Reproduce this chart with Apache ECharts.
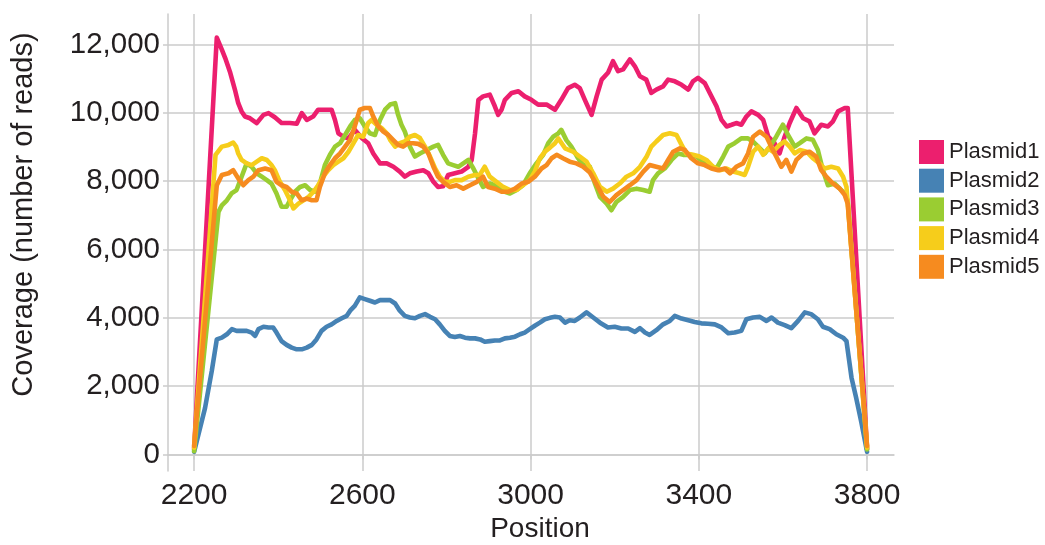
<!DOCTYPE html>
<html>
<head>
<meta charset="utf-8">
<script src="https://cdn.jsdelivr.net/npm/echarts@6/dist/echarts.min.js"></script>
<style>
  html, body { margin: 0; padding: 0; background: #ffffff; }
  #chart { width: 1045px; height: 545px; }
</style>
</head>
<body>
<div id="chart"></div>
<script>
// Read coverage along the insert, one [position, reads] list per plasmid
const seriesNames = ['Plasmid1', 'Plasmid2', 'Plasmid3', 'Plasmid4', 'Plasmid5'];
const seriesColors = ['#EC1F6E', '#4682B4', '#9ACD32', '#F6CD1B', '#F68B1F'];
const xTicks = [2200, 2600, 3000, 3400, 3800];
const yTicks = [0, 2000, 4000, 6000, 8000, 10000, 12000];

const plasmid1 = [[2200,150],[2254,12200],[2266,11850],[2274,11600],[2286,11170],[2297,10680],[2305,10280],[2313,10040],[2321,9890],[2333,9840],[2349,9700],[2365,9940],[2377,9990],[2392,9870],[2408,9700],[2428,9700],[2444,9680],[2456,9990],[2468,9790],[2483,9890],[2495,10090],[2507,10090],[2527,10090],[2535,9790],[2543,9400],[2555,9300],[2567,9250],[2582,9500],[2600,9250],[2614,9110],[2626,8810],[2642,8520],[2658,8520],[2674,8420],[2689,8280],[2701,8130],[2713,8230],[2729,8280],[2745,8320],[2757,8230],[2769,7980],[2780,7830],[2792,7850],[2804,8180],[2820,8230],[2836,8280],[2852,8420],[2860,8620],[2868,9400],[2876,10380],[2887,10480],[2903,10530],[2915,10190],[2923,9940],[2931,10090],[2939,10380],[2955,10580],[2971,10630],[2986,10480],[3002,10380],[3018,10240],[3038,10240],[3058,10090],[3073,10380],[3089,10720],[3105,10820],[3117,10720],[3129,10380],[3145,9940],[3157,10480],[3169,10970],[3184,11170],[3196,11510],[3208,11220],[3220,11270],[3236,11560],[3248,11360],[3260,11070],[3275,10970],[3287,10580],[3299,10680],[3315,10770],[3327,10970],[3343,10920],[3359,10820],[3375,10680],[3386,10920],[3398,11020],[3414,10870],[3426,10580],[3442,10190],[3454,9790],[3466,9600],[3478,9650],[3489,9700],[3501,9650],[3513,9890],[3525,10040],[3541,9940],[3553,9790],[3565,9300],[3580,9110],[3592,8810],[3604,9300],[3616,9700],[3632,10140],[3648,9840],[3663,9750],[3675,9400],[3691,9650],[3707,9600],[3719,9750],[3731,10040],[3747,10140],[3754,10140],[3800,150]];

const plasmid2 = [[2200,80],[2226,1360],[2242,2440],[2254,3370],[2266,3420],[2278,3520],[2290,3670],[2301,3620],[2313,3620],[2325,3620],[2337,3570],[2345,3470],[2353,3670],[2365,3740],[2377,3720],[2388,3720],[2396,3570],[2408,3320],[2420,3210],[2432,3130],[2444,3080],[2456,3080],[2468,3130],[2480,3210],[2491,3370],[2503,3620],[2515,3740],[2527,3810],[2539,3910],[2551,3990],[2563,4060],[2571,4210],[2582,4350],[2594,4600],[2606,4550],[2618,4500],[2630,4450],[2642,4520],[2654,4520],[2666,4520],[2678,4420],[2689,4210],[2701,4060],[2713,4010],[2725,3990],[2737,4060],[2749,4110],[2761,4030],[2773,3960],[2784,3810],[2796,3620],[2808,3470],[2820,3440],[2832,3470],[2844,3420],[2856,3400],[2868,3400],[2880,3370],[2891,3300],[2903,3320],[2915,3340],[2927,3340],[2939,3400],[2951,3420],[2963,3450],[2975,3520],[2986,3570],[2998,3670],[3010,3770],[3022,3860],[3034,3960],[3046,4000],[3058,4030],[3070,4010],[3082,3860],[3093,3930],[3105,3910],[3117,4010],[3133,4160],[3149,4010],[3165,3860],[3184,3720],[3200,3740],[3216,3690],[3232,3690],[3248,3590],[3260,3700],[3272,3570],[3283,3500],[3299,3640],[3315,3810],[3331,3910],[3343,4060],[3359,3980],[3375,3930],[3390,3880],[3406,3840],[3422,3830],[3438,3810],[3454,3720],[3470,3550],[3485,3570],[3501,3620],[3513,3960],[3529,4010],[3545,4030],[3561,3910],[3573,4010],[3588,3860],[3604,3790],[3620,3700],[3636,3910],[3652,4160],[3667,4110],[3683,3960],[3695,3740],[3711,3670],[3727,3520],[3743,3420],[3751,3320],[3763,2250],[3774,1660],[3786,970],[3800,80]];

const plasmid3 = [[2200,100],[2258,7100],[2266,7290],[2278,7440],[2289,7640],[2301,7740],[2313,8130],[2325,8520],[2337,8420],[2349,8230],[2361,8130],[2373,8030],[2384,7930],[2396,7640],[2408,7250],[2420,7250],[2428,7440],[2440,7690],[2452,7830],[2464,7880],[2476,7740],[2487,7690],[2499,7930],[2511,8470],[2523,8770],[2535,9010],[2547,9110],[2559,9350],[2571,9600],[2582,9790],[2594,9840],[2606,9600],[2618,9400],[2630,9350],[2642,9790],[2654,10090],[2666,10240],[2678,10280],[2685,9940],[2693,9650],[2701,9450],[2713,9010],[2725,8720],[2737,8810],[2753,8910],[2769,9010],[2780,9060],[2792,8770],[2804,8520],[2816,8470],[2828,8420],[2840,8520],[2852,8620],[2864,8370],[2876,8080],[2887,7830],[2903,7930],[2915,7880],[2927,7780],[2939,7690],[2951,7640],[2967,7740],[2982,7880],[2998,8230],[3014,8520],[3030,8770],[3042,9110],[3054,9300],[3066,9400],[3073,9500],[3085,9200],[3097,9010],[3113,8670],[3125,8470],[3141,8420],[3153,7930],[3165,7540],[3181,7340],[3192,7150],[3204,7390],[3220,7540],[3236,7740],[3252,7780],[3268,7740],[3283,7690],[3291,8030],[3303,8230],[3319,8370],[3335,8620],[3351,8810],[3363,8770],[3379,8770],[3394,8720],[3410,8570],[3426,8470],[3442,8370],[3458,8720],[3470,9010],[3485,9110],[3501,9250],[3517,9250],[3529,9160],[3541,9010],[3557,8810],[3569,9010],[3584,9300],[3600,9650],[3612,9350],[3628,9010],[3640,9110],[3656,9250],[3671,9210],[3683,8910],[3695,8320],[3707,7880],[3723,7930],[3735,7780],[3747,7640],[3754,7440],[3800,150]];

const plasmid4 = [[2200,200],[2251,8770],[2266,9010],[2282,9060],[2293,9130],[2300,9010],[2305,8810],[2313,8620],[2325,8520],[2337,8470],[2349,8570],[2361,8670],[2373,8620],[2384,8470],[2392,8320],[2404,7980],[2416,7740],[2428,7440],[2436,7200],[2448,7340],[2460,7440],[2472,7540],[2484,7690],[2495,7880],[2507,8130],[2519,8320],[2531,8470],[2543,8570],[2555,8670],[2567,8860],[2579,9110],[2590,9350],[2602,9300],[2614,9700],[2622,9790],[2634,9650],[2646,9550],[2658,9400],[2666,9210],[2678,9010],[2689,9110],[2701,9160],[2713,9300],[2725,9350],[2737,9260],[2749,9010],[2761,8720],[2773,8370],[2784,8130],[2796,7980],[2808,7980],[2820,8030],[2836,8030],[2852,8130],[2868,8180],[2879,8180],[2891,8420],[2903,8130],[2919,7980],[2935,7830],[2951,7740],[2967,7740],[2982,7880],[2998,8030],[3010,8280],[3022,8670],[3034,8860],[3046,8980],[3058,9110],[3066,9250],[3082,8960],[3101,8860],[3117,8720],[3133,8570],[3149,8230],[3165,7830],[3181,7690],[3196,7780],[3212,7930],[3228,8130],[3244,8230],[3260,8420],[3276,8720],[3287,9010],[3299,9160],[3315,9350],[3331,9400],[3347,9350],[3359,9060],[3370,8810],[3386,8770],[3402,8720],[3418,8620],[3434,8420],[3450,8320],[3466,8370],[3481,8280],[3497,8230],[3509,8180],[3517,8420],[3529,8860],[3541,9010],[3553,8770],[3565,8960],[3576,8860],[3592,9060],[3604,9160],[3616,9010],[3628,8810],[3640,8910],[3656,8860],[3671,8670],[3687,8520],[3699,8370],[3715,8420],[3731,8370],[3743,8130],[3751,7830],[3800,200]];

const plasmid5 = [[2200,250],[2254,7880],[2266,8180],[2282,8230],[2293,8320],[2305,8080],[2317,7880],[2329,8030],[2341,8130],[2353,8320],[2369,8370],[2384,8320],[2396,7980],[2408,7880],[2420,7830],[2432,7690],[2444,7640],[2456,7440],[2468,7490],[2480,7440],[2491,7440],[2499,7830],[2511,8230],[2523,8470],[2535,8670],[2547,8810],[2559,9010],[2571,9210],[2582,9600],[2594,10090],[2606,10140],[2618,10140],[2626,9890],[2638,9600],[2650,9450],[2662,9350],[2673,9210],[2685,9060],[2697,9010],[2709,9110],[2721,9110],[2733,9090],[2745,9010],[2757,8810],[2769,8420],[2780,8130],[2792,7980],[2808,7830],[2824,7880],[2840,7780],[2856,7880],[2872,7980],[2887,8130],[2899,7830],[2915,7780],[2931,7690],[2947,7690],[2963,7780],[2979,7930],[2994,7980],[3010,8130],[3026,8370],[3038,8470],[3050,8670],[3062,8770],[3077,8670],[3093,8570],[3109,8520],[3125,8420],[3141,8250],[3157,7900],[3173,7540],[3188,7390],[3204,7590],[3220,7740],[3236,7880],[3252,8030],[3268,8280],[3283,8470],[3299,8420],[3315,8370],[3327,8620],[3339,8860],[3355,8960],[3367,8910],[3382,8670],[3398,8520],[3414,8470],[3430,8370],[3446,8320],[3462,8370],[3474,8230],[3489,8420],[3505,8520],[3517,8810],[3529,9300],[3545,9450],[3561,9300],[3572,9010],[3584,8720],[3596,8420],[3608,8620],[3620,8280],[3632,8620],[3648,8810],[3663,8860],[3679,8720],[3691,8320],[3703,8130],[3719,7930],[3735,7780],[3747,7590],[3754,7340],[3800,250]];

const seriesData = [plasmid1, plasmid2, plasmid3, plasmid4, plasmid5];

const textColor = '#231F20';
const gridColor = '#CBCBCB';
const fontFamily = '"Liberation Sans", Arial, Helvetica, sans-serif';

const chart = echarts.init(document.getElementById('chart'), null, { renderer: 'canvas' });

chart.setOption({
  animation: false,
  backgroundColor: '#ffffff',
  textStyle: { fontFamily: fontFamily, color: textColor },
  grid: {
    left: 168, right: 151, top: 14, bottom: 74,
    containLabel: false,
    outerBoundsMode: 'none'
  },
  legend: {
    data: seriesNames,
    orient: 'vertical',
    left: 919,
    top: 140,
    padding: 0,
    icon: 'rect',
    itemWidth: 25,
    itemHeight: 24,
    itemGap: 4.7,
    selectedMode: false,
    textStyle: { fontSize: 22, color: textColor, fontFamily: fontFamily }
  },
  xAxis: {
    type: 'value',
    min: 2138,
    max: 3864,
    name: 'Position',
    nameLocation: 'middle',
    nameGap: 44,
    nameMoveOverlap: false,
    nameTextStyle: { fontSize: 28, color: textColor, fontFamily: fontFamily, padding: [0, 0, 0, 18] },
    axisLine: { show: true, lineStyle: { color: gridColor, width: 1.5 } },
    axisTick: { show: true, length: 5, customValues: xTicks, lineStyle: { color: gridColor, width: 1.5 } },
    axisLabel: {
      customValues: xTicks,
      fontSize: 30,
      color: textColor,
      margin: 10,
      fontFamily: fontFamily,
      formatter: function (v) { return String(v); }
    },
    splitLine: { show: true, lineStyle: { color: gridColor, width: 1.5 } }
  },
  yAxis: {
    type: 'value',
    min: -480,
    max: 12890,
    name: 'Coverage (number of reads)',
    nameLocation: 'middle',
    nameGap: 130,
    nameMoveOverlap: false,
    nameTextStyle: { fontSize: 29, color: textColor, fontFamily: fontFamily, padding: [0, 0, 0, 56] },
    axisLine: { show: true, lineStyle: { color: gridColor, width: 1.5 } },
    axisTick: { show: true, length: 5, customValues: yTicks, lineStyle: { color: gridColor, width: 1.5 } },
    axisLabel: {
      customValues: yTicks,
      fontSize: 29.5,
      color: textColor,
      margin: 8,
      fontFamily: fontFamily,
      formatter: function (v) { return v.toLocaleString('en-US'); }
    },
    splitLine: { show: true, lineStyle: { color: gridColor, width: 1.5 } }
  },
  series: seriesNames.map(function (name, i) {
    return {
      name: name,
      type: 'line',
      data: seriesData[i],
      symbol: 'none',
      smooth: false,
      color: seriesColors[i],
      itemStyle: { color: seriesColors[i] },
      lineStyle: { color: seriesColors[i], width: 4.6, join: 'round', cap: 'round' },
      z: 2 + i
    };
  })
});
</script>
</body>
</html>
